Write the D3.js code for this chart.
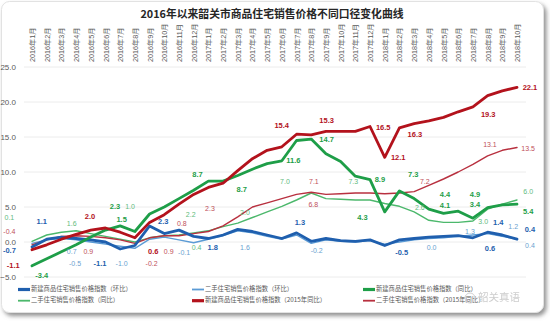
<!DOCTYPE html>
<html><head><meta charset="utf-8">
<script src="https://cdn.jsdelivr.net/npm/d3@7"></script>
<style>body{margin:0;background:#fff;overflow:hidden}</style>
</head><body>
<svg id="c" width="550" height="321"></svg>
<script>
// ---------- data ----------
const months = [];
[2016, 2017, 2018].forEach(y => { for (let m = 1; m <= 12; m++) { if (y === 2018 && m > 10) break; months.push(y + "年" + m + "月"); } });
const yTicks = [-5, 0, 5, 10, 15, 20, 25];
const title = "2016年以来韶关市商品住宅销售价格不同口径变化曲线";
const seriesNames = [
  "新建商品住宅销售价格指数（环比）",
  "二手住宅销售价格指数（环比）",
  "新建商品住宅销售价格指数（同比）",
  "二手住宅销售价格指数（同比）",
  "新建商品住宅销售价格指数（2015年同比）",
  "二手住宅销售价格指数（2015年同比）"
];
const newMoM = [-0.7,0.4,0.7,0.5,0.3,0.0,-1.0,-0.5,2.3,1.2,1.7,0.8,0.5,1.0,1.8,1.5,1.0,0.5,1.3,0.1,0.5,0.2,0.1,0.3,-0.5,0.3,0.5,0.7,0.8,0.9,0.6,1.4,1.0,0.4];
const usedMoM = [-0.2,0.3,0.5,0.3,0.0,-0.3,-0.6,-0.9,0.4,0.7,0.3,-0.1,0.4,0.9,1.6,1.3,0.8,0.4,1.0,-0.2,0.3,0.1,0.0,0.2,-0.3,0.0,0.3,0.5,0.6,0.8,1.0,1.2,0.8,0.4];
const newYoY = [-3.4,-2.4,-1.4,-0.4,0.7,1.7,2.3,1.5,4.0,5.0,6.2,7.4,8.7,8.7,9.5,10.4,11.2,11.6,14.5,14.7,12.6,11.5,9.4,8.9,4.3,7.3,6.2,4.7,4.1,4.4,3.4,4.9,5.3,5.4];
const usedYoY = [0.1,1.0,1.4,1.6,1.2,0.8,0.4,0.0,0.6,0.9,1.0,1.3,1.6,2.2,2.7,3.5,4.3,5.1,6.0,7.0,6.2,6.1,6.0,6.0,5.5,5.1,4.3,3.1,2.8,2.8,3.0,4.7,5.4,6.0];
const new2015 = [-1.1,-0.4,0.4,1.1,1.7,2.0,1.4,0.6,2.8,3.9,5.4,6.8,7.8,8.4,10.2,11.9,13.1,13.6,15.4,15.3,15.8,15.8,15.8,16.5,12.1,16.3,16.9,17.3,17.8,18.6,19.3,20.9,21.6,22.1];
const used2015 = [-0.4,0.3,0.8,0.9,0.8,0.6,0.3,-0.2,0.6,0.9,0.9,1.2,1.5,2.3,3.6,5.0,5.6,6.2,6.8,7.1,6.8,6.9,7.0,7.0,6.9,7.0,7.2,8.1,9.0,10.0,11.1,12.3,13.1,13.5];
const seriesData = [newMoM, usedMoM, newYoY, usedYoY, new2015, used2015];

// data labels shown on the chart: series index + value
const labelSeries = [3,5,0,4,2,0,3,4,1,5,1,0,1,2,3,2,4,5,5,0,3,5,1,2,3,2,5,3,0,1,4,4,2,2,3,5,5,0,1,3,2,2,4,4,4,4,4,5,5,2,5,3,2,2,2,2,3,1,0,1,0,1,3,2,0,1,0];
const labelValues = [0.1,-0.4,-0.7,-1.1,-3.4,1.1,1.6,2.0,0.7,0.9,-0.5,-1.1,-1.0,2.3,1.0,1.5,0.6,0.9,-0.2,2.3,2.2,0.8,-0.1,8.7,0.4,8.7,2.3,2.0,1.8,1.6,15.4,15.3,14.7,11.6,7.0,7.1,6.8,1.3,-0.2,7.3,4.3,8.9,16.5,12.1,16.3,19.3,22.1,13.1,13.5,7.3,7.2,2.6,4.4,4.1,4.9,3.4,3.0,1.3,1.4,1.2,0.4,0.4,6.0,5.4,0.6,0.0,-0.5];

// ---------- layout (label anchor in [month index, value] units) ----------
const labelPos = [[-1.54,3.39],[-1.54,1.39],[-1.54,-1.3],[-1.27,-3.39],[0.66,-4.86],[0.66,2.9],[2.7,2.57],[3.95,3.61],[2.7,-1.39],[3.83,-1.39],[2.93,-3.19],[4.63,-3.19],[6.1,-3.19],[5.65,4.96],[6.67,5.04],[6.1,3.14],[8.25,-1.39],[9.3,-1.39],[8.14,-3.19],[8.93,2.9],[10.8,3.9],[10.2,2.55],[10.35,-1.6],[11.26,9.5],[11.2,-0.9],[14.27,7.43],[12.11,4.67],[14.49,4.19],[12.3,-0.9],[14.49,-0.9],[16.99,16.57],[20.05,17.29],[20.05,14.57],[17.78,11.57],[17.21,8.61],[19.18,8.61],[19.14,5.29],[18.23,2.76],[19.37,-1.29],[21.86,8.61],[22.48,3.39],[23.67,8.86],[23.9,16.33],[24.92,11.96],[26.05,15.29],[31.04,18.14],[33.88,21.96],[31.16,13.86],[33.76,13.24],[25.94,9.57],[26.73,8.61],[26.39,4.81],[28.1,6.71],[28.1,5.14],[30.14,6.71],[30.14,5.29],[30.7,2.9],[29.8,1.47],[31.72,2.67],[32.74,2.1],[33.88,1.71],[33.88,-0.57],[33.76,7.19],[33.76,4.33],[31.16,-1.0],[27.19,-0.9],[25.15,-1.53]];

const colors = ["#1f5fae", "#5b9bd5", "#1e9e48", "#4cb86c", "#b3121c", "#b8303f"];
const labelColors = ["#1f5fae", "#6b9fd0", "#1e9e48", "#62bb7e", "#b3121c", "#c0505a"];
const widths = [2.8, 1.4, 2.8, 1.4, 2.8, 1.4];
const FONT = "'Liberation Sans','Noto Sans CJK SC',sans-serif";

const svg = d3.select("#c");
const defs = svg.append("defs");
const f = defs.append("filter").attr("id", "sh").attr("x", "-5%").attr("y", "-5%").attr("width", "110%").attr("height", "110%");
f.append("feDropShadow").attr("dx", 2.5).attr("dy", 3).attr("stdDeviation", 2).attr("flood-color", "#777").attr("flood-opacity", 0.8);

svg.append("rect").attr("x", 1.5).attr("y", 1.5).attr("width", 542).attr("height", 311).attr("rx", 8)
  .attr("fill", "#fff").attr("stroke", "#e2e2e2").attr("filter", "url(#sh)");

const x = d3.scaleLinear().domain([0, months.length - 1]).range([32, 517]);
const y = d3.scaleLinear().domain([-5, 25]).range([277, 67]);

// grid
svg.append("g").selectAll("line").data(yTicks).join("line")
  .attr("x1", 24).attr("x2", 526).attr("y1", d => y(d)).attr("y2", d => y(d))
  .attr("stroke", "#ececec").attr("stroke-width", 1);

// y axis labels
const yAxis = d3.axisLeft(y).tickValues(yTicks).tickFormat(d3.format(".1f")).tickSize(0).tickPadding(0);
const ya = svg.append("g").attr("transform", "translate(16,0)").call(yAxis);
ya.select(".domain").remove();
ya.selectAll("text").attr("font-family", FONT).attr("font-size", 8).attr("fill", "#595959");

// month labels on top
const xAxis = d3.axisTop(x).tickValues(d3.range(months.length)).tickFormat(i => months[i]).tickSize(0).tickPadding(0);
const xa = svg.append("g").attr("transform", "translate(0,62)").call(xAxis);
xa.select(".domain").remove();
xa.selectAll("text").attr("font-family", FONT).attr("font-size", 7.2).attr("fill", "#595959")
  .attr("transform", "rotate(-90)").attr("text-anchor", "start").attr("dy", "0.35em").attr("x", 0).attr("y", 0);

// title
svg.append("text").attr("x", 272).attr("y", 18).attr("text-anchor", "middle")
  .attr("font-family", "'Noto Sans CJK SC',sans-serif").attr("font-weight", "bold").attr("font-size", 10.8)
  .attr("fill", "#262626").text(title);

// lines (thin first, thick on top)
const line = d3.line().x((d, i) => x(i)).y(d => y(d));
[1, 3, 5, 0, 2, 4].forEach(s => {
  svg.append("path").attr("d", line(seriesData[s])).attr("fill", "none")
    .attr("stroke", colors[s]).attr("stroke-width", widths[s]).attr("stroke-linejoin", "round").attr("stroke-linecap", "round");
});

// data labels
svg.append("g").selectAll("text").data(labelValues).join("text")
  .attr("x", (d, k) => x(labelPos[k][0])).attr("y", (d, k) => y(labelPos[k][1]))
  .attr("text-anchor", "middle").attr("dominant-baseline", "middle")
  .attr("font-family", FONT)
  .attr("font-size", (d, k) => [0, 2, 4].includes(labelSeries[k]) ? 7.5 : 7)
  .attr("font-weight", (d, k) => [0, 2, 4].includes(labelSeries[k]) ? "bold" : "normal")
  .attr("fill", (d, k) => labelColors[labelSeries[k]])
  .text(d => d.toFixed(1));

// legend
const legX = [18, 192, 363];
const legY = [289.5, 300.7];
seriesNames.forEach((name, s) => {
  const col = s % 3, row = Math.floor(s / 3);
  const g = svg.append("g").attr("transform", `translate(${legX[col]},${legY[row]})`);
  g.append("line").attr("x1", 0).attr("x2", 12).attr("y1", 0).attr("y2", 0)
    .attr("stroke", colors[s]).attr("stroke-width", widths[s] + 0.4);
  g.append("text").attr("x", 13).attr("y", 0).attr("dominant-baseline", "middle")
    .attr("font-family", "'Noto Sans CJK SC',sans-serif").attr("font-size", 6.3).attr("fill", "#595959").text(name);
});

// watermark
svg.append("circle").attr("cx", 470).attr("cy", 298).attr("r", 5).attr("fill", "none").attr("stroke", "#d0d0d0").attr("stroke-width", 1);
svg.append("text").attr("x", 478).attr("y", 298).attr("dominant-baseline", "middle")
  .attr("font-family", "'Noto Sans CJK SC',sans-serif").attr("font-size", 10.5).attr("fill", "#c8c8c8").attr("opacity", 0.9).text("韶关真语");
</script>
</body></html>
